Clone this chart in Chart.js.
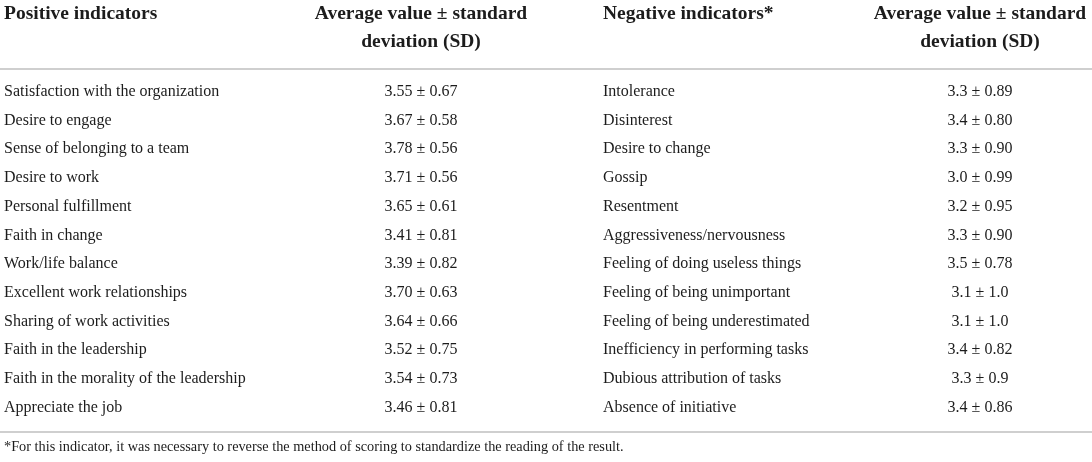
<!DOCTYPE html>
<html lang="en">
<head>
    <meta charset="UTF-8">
    <title>Positive and negative indicators</title>
    <script src="https://cdn.jsdelivr.net/npm/chart.js"></script>
    <style>
        body {
            margin: 0;
            padding: 0;
            background: #ffffff;
        }
        .table-container {
            position: relative;
            width: 1092px;
            height: 462px;
        }
    </style>
</head>
<body>
    <div class="table-container">
        <canvas id="indicatorTable"></canvas>
    </div>

    <script>
        const positiveIndicators = [
            'Satisfaction with the organization', 'Desire to engage', 'Sense of belonging to a team',
            'Desire to work', 'Personal fulfillment', 'Faith in change', 'Work/life balance',
            'Excellent work relationships', 'Sharing of work activities', 'Faith in the leadership',
            'Faith in the morality of the leadership', 'Appreciate the job'
        ];
        const positiveMeans = ['3.55', '3.67', '3.78', '3.71', '3.65', '3.41', '3.39', '3.70', '3.64', '3.52', '3.54', '3.46'];
        const positiveSD = ['0.67', '0.58', '0.56', '0.56', '0.61', '0.81', '0.82', '0.63', '0.66', '0.75', '0.73', '0.81'];

        const negativeIndicators = [
            'Intolerance', 'Disinterest', 'Desire to change', 'Gossip', 'Resentment',
            'Aggressiveness/nervousness', 'Feeling of doing useless things', 'Feeling of being unimportant',
            'Feeling of being underestimated', 'Inefficiency in performing tasks',
            'Dubious attribution of tasks', 'Absence of initiative'
        ];
        const negativeMeans = ['3.3', '3.4', '3.3', '3.0', '3.2', '3.3', '3.5', '3.1', '3.1', '3.4', '3.3', '3.4'];
        const negativeSD = ['0.89', '0.80', '0.90', '0.99', '0.95', '0.90', '0.78', '1.0', '1.0', '0.82', '0.9', '0.86'];

        const headerLine1 = ['Positive indicators', 'Average value \u00b1 standard', 'Negative indicators*', 'Average value \u00b1 standard'];
        const headerLine2 = ['', 'deviation (SD)', '', 'deviation (SD)'];
        const footnote = '*For this indicator, it was necessary to reverse the method of scoring to standardize the reading of the result.';

        // layout (scale units): x in px-like units, y in row units
        const colX = [4, 421, 603, 980];
        const colAlign = ['left', 'center', 'left', 'center'];
        const headerRowY = [-2.73, -1.75];
        const headRuleY = -0.8;
        const footRuleY = 11.86;
        const footnoteY = 12.38;

        const textColor = '#1c1c1c';
        const bodyFont = '16px "Liberation Serif", serif';
        const headFont = 'bold 19.5px "Liberation Serif", serif';
        const noteFont = '14.3px "Liberation Serif", serif';

        const rows = positiveIndicators.map((_, i) => i);

        function cellDataset(colIndex, texts, font) {
            return {
                data: texts.map((_, i) => ({ x: colX[colIndex], y: rows[i] })),
                texts: texts,
                align: colAlign[colIndex],
                font: font,
                pointRadius: 0
            };
        }

        const datasets = [
            cellDataset(0, positiveIndicators, bodyFont),
            cellDataset(1, positiveMeans.map((m, i) => `${m} \u00b1 ${positiveSD[i]}`), bodyFont),
            cellDataset(2, negativeIndicators, bodyFont),
            cellDataset(3, negativeMeans.map((m, i) => `${m} \u00b1 ${negativeSD[i]}`), bodyFont)
        ];

        // header cells
        headerLine1.forEach((t, c) => {
            datasets.push({
                data: [{ x: colX[c], y: headerRowY[0] }, { x: colX[c], y: headerRowY[1] }],
                texts: [t, headerLine2[c]],
                align: colAlign[c],
                font: headFont,
                pointRadius: 0
            });
        });

        datasets.push({
            data: [{ x: colX[0], y: footnoteY }],
            texts: [footnote],
            align: 'left',
            font: noteFont,
            pointRadius: 0
        });

        const tablePlugin = {
            id: 'tableText',
            beforeDatasetsDraw(chart) {
                const ctx = chart.ctx;
                const y = chart.scales.y;
                const area = chart.chartArea;
                ctx.save();
                ctx.strokeStyle = '#cfcfcf';
                ctx.lineWidth = 2;
                [headRuleY, footRuleY].forEach(v => {
                    const py = Math.round(y.getPixelForValue(v));
                    ctx.beginPath();
                    ctx.moveTo(area.left, py);
                    ctx.lineTo(area.right, py);
                    ctx.stroke();
                });
                ctx.restore();
            },
            afterDatasetsDraw(chart) {
                const ctx = chart.ctx;
                ctx.save();
                ctx.fillStyle = textColor;
                ctx.textBaseline = 'middle';
                chart.data.datasets.forEach((ds, d) => {
                    const meta = chart.getDatasetMeta(d);
                    ctx.font = ds.font;
                    ctx.textAlign = ds.align;
                    meta.data.forEach((pt, i) => {
                        if (ds.texts[i]) ctx.fillText(ds.texts[i], pt.x, pt.y);
                    });
                });
                ctx.restore();
            }
        };

        new Chart(document.getElementById('indicatorTable'), {
            type: 'scatter',
            data: { datasets },
            options: {
                responsive: true,
                maintainAspectRatio: false,
                animation: false,
                layout: { padding: 0 },
                plugins: { legend: { display: false }, tooltip: { enabled: false } },
                scales: {
                    x: { type: 'linear', min: 0, max: 1092, display: false },
                    y: { type: 'linear', min: -3.2, max: 12.9, reverse: true, display: false }
                }
            },
            plugins: [tablePlugin]
        });
    </script>
</body>
</html>
